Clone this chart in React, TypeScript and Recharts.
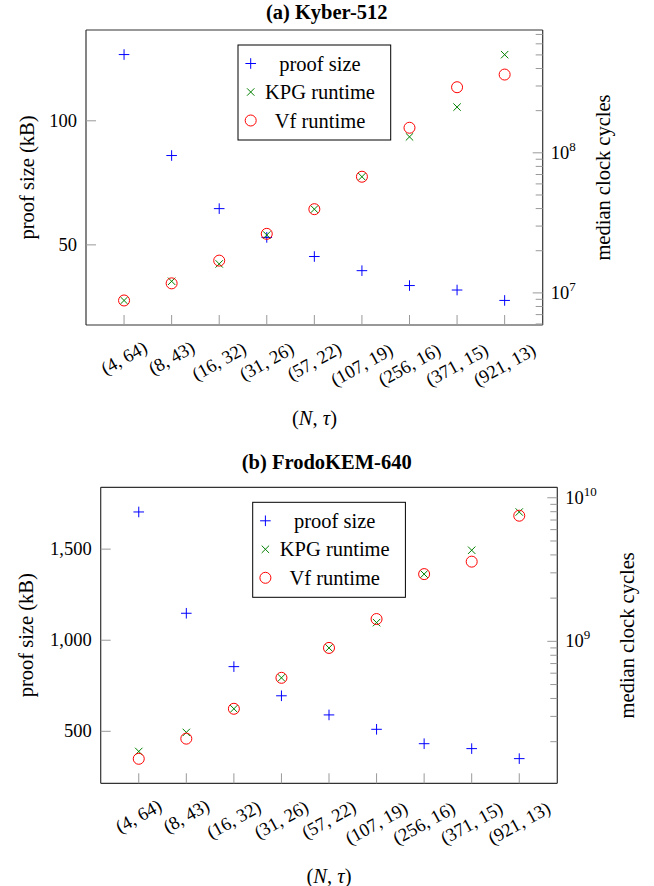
import { ScatterChart, Scatter, XAxis, YAxis } from "recharts";

const categories = ["(4, 64)", "(8, 43)", "(16, 32)", "(31, 26)", "(57, 22)", "(107, 19)", "(256, 16)", "(371, 15)", "(921, 13)"];
const xTicks = [0, 1, 2, 3, 4, 5, 6, 7, 8];

// Kyber-512
const kyberProof = [126.7, 86, 64.6, 53, 45.3, 39.6, 33.6, 31.8, 27.6];
const kyberKpg = [8.83e6, 1.21e7, 1.61e7, 2.59e7, 3.96e7, 6.75e7, 1.3e8, 2.12e8, 5.02e8];
const kyberVf = [8.83e6, 1.17e7, 1.7e7, 2.64e7, 3.96e7, 6.75e7, 1.51e8, 2.94e8, 3.62e8];
const kyberLeftTicks = [50, 100];
const kyberLogTicks = [6e6, 7e6, 8e6, 9e6, 1e7, 2e7, 3e7, 4e7, 5e7, 6e7, 7e7, 8e7, 9e7, 1e8, 2e8, 3e8, 4e8, 5e8, 6e8, 7e8];

// FrodoKEM-640
const frodoProof = [1704, 1148, 855, 695, 590, 511, 432, 405, 350];
const frodoKpg = [1.71e8, 2.32e8, 3.39e8, 5.57e8, 9.0e8, 1.35e9, 2.94e9, 4.31e9, 7.96e9];
const frodoVf = [1.52e8, 2.1e8, 3.39e8, 5.57e8, 9.0e8, 1.43e9, 2.94e9, 3.59e9, 7.5e9];
const frodoLeftTicks = [500, 1000, 1500];
const frodoLogTicks = [2e8, 3e8, 4e8, 5e8, 6e8, 7e8, 8e8, 9e8, 1e9, 2e9, 3e9, 4e9, 5e9, 6e9, 7e9, 8e9, 9e9, 1e10];

const FONT = "'Liberation Serif', 'DejaVu Serif', serif";
const AXIS = "#333";
const TICK = "#999";
const BLUE = "#0000ff";
const GREEN = "#008000";
const RED = "#ff0000";

const toPoints = (vals: number[]) => vals.map((v, i) => ({ i, v }));

const Plus = ({ cx, cy }: any) => (
  <g stroke={BLUE} strokeWidth={1}>
    <line x1={cx - 5.3} y1={cy} x2={cx + 5.3} y2={cy} />
    <line x1={cx} y1={cy - 5.3} x2={cx} y2={cy + 5.3} />
  </g>
);
const Cross = ({ cx, cy }: any) => (
  <g stroke={GREEN} strokeWidth={1}>
    <line x1={cx - 3.7} y1={cy - 3.7} x2={cx + 3.7} y2={cy + 3.7} />
    <line x1={cx - 3.7} y1={cy + 3.7} x2={cx + 3.7} y2={cy - 3.7} />
  </g>
);
const Ring = ({ cx, cy }: any) => <circle cx={cx} cy={cy} r={5.5} fill="none" stroke={RED} strokeWidth={1} />;

const XTick = ({ x, y, payload }: any) => {
  const label = categories[payload.value] ?? "";
  const dy = 33 + 3.5 * (label.length - 7);
  return (
    <g>
      <line x1={x} y1={y} x2={x} y2={y - 10} stroke={TICK} />
      <text x={x} y={y + dy} textAnchor="middle" dominantBaseline="central" transform={`rotate(-29 ${x} ${y + dy})`}
        fontSize={18.5} fontFamily={FONT} fill="#000">{label}</text>
    </g>
  );
};
const TopTick = ({ x, y }: any) => <line x1={x} y1={y} x2={x} y2={y + 10} stroke={TICK} />;

const LeftTick = ({ x, y, payload }: any) => (
  <g>
    <line x1={x} y1={y} x2={x + 10} y2={y} stroke={TICK} />
    <text x={x - 9} y={y} textAnchor="end" dominantBaseline="central" fontSize={18.5} fontFamily={FONT} fill="#000">
      {payload.value.toLocaleString("en-US")}
    </text>
  </g>
);

const RightTick = ({ x, y, payload }: any) => {
  const e = Math.log10(payload.value);
  const major = Math.abs(e - Math.round(e)) < 1e-6;
  return (
    <g>
      <line x1={x} y1={y} x2={x - (major ? 10 : 7)} y2={y} stroke={TICK} />
      {major && (
        <text x={x + 8} y={y + 6} fontSize={18.5} fontFamily={FONT} fill="#000">
          10<tspan dy={-8} fontSize={13}>{Math.round(e)}</tspan>
        </text>
      )}
    </g>
  );
};

// axes are 1px thick, so margins are one pixel short of the plot box edges
function Panel({ proof, kpg, vf, leftDomain, leftTicks, logDomain, logTicks, box, height }: any) {
  const margin = { top: box.top - 1, left: box.left - 1, right: 654 - box.right - 1, bottom: height - box.bottom - 1 };
  const line = { stroke: AXIS, strokeWidth: 1.2 };
  return (
    <ScatterChart width={654} height={height} margin={margin}>
      <XAxis dataKey="i" type="number" domain={[-0.8, 8.8]} ticks={xTicks} interval={0} height={1}
        tickSize={0} tickMargin={0} tickLine={false} axisLine={line} tick={<XTick />} />
      <XAxis xAxisId="top" orientation="top" dataKey="i" type="number" domain={[-0.8, 8.8]} ticks={xTicks} interval={0} height={1}
        tickSize={0} tickMargin={0} tickLine={false} axisLine={line} tick={<TopTick />} />
      <YAxis yAxisId="left" dataKey="v" type="number" domain={leftDomain} allowDataOverflow ticks={leftTicks} interval={0} width={1}
        tickSize={0} tickMargin={0} tickLine={false} axisLine={line} tick={<LeftTick />} />
      <YAxis yAxisId="right" orientation="right" dataKey="v" type="number" scale="log" domain={logDomain} allowDataOverflow
        ticks={logTicks} interval={0} width={1} tickSize={0} tickMargin={0} tickLine={false}
        axisLine={line} tick={<RightTick />} />
      <Scatter yAxisId="left" data={toPoints(proof)} shape={(p: any) => <Plus cx={p.cx} cy={p.cy} />} isAnimationActive={false} />
      <Scatter yAxisId="right" data={toPoints(kpg)} shape={(p: any) => <Cross cx={p.cx} cy={p.cy} />} isAnimationActive={false} />
      <Scatter yAxisId="right" data={toPoints(vf)} shape={(p: any) => <Ring cx={p.cx} cy={p.cy} />} isAnimationActive={false} />
    </ScatterChart>
  );
}

const LegendBox = ({ x, y }: { x: number; y: number }) => (
  <g transform={`translate(${x} ${y})`}>
    <rect x={0} y={0} width={152.7} height={95} fill="#fff" stroke="#000" strokeWidth={1} />
    <Plus cx={12.7} cy={18.5} />
    <Cross cx={12.7} cy={47} />
    <Ring cx={12.7} cy={75.5} />
    <g fontSize={20.5} fontFamily={FONT} textAnchor="middle" dominantBaseline="central" fill="#000">
      <text x={82} y={18.5}>proof size</text>
      <text x={82} y={47}>KPG runtime</text>
      <text x={82} y={75.5}>Vf runtime</text>
    </g>
  </g>
);

const AxisTitle = ({ x, y }: { x: number; y: number }) => (
  <text x={x} y={y} textAnchor="middle" dominantBaseline="central" fontSize={20.5} fontFamily={FONT} fill="#000">
    (<tspan fontStyle="italic">N</tspan>, <tspan fontStyle="italic">τ</tspan>)
  </text>
);

const VLabel = ({ x, y, text }: { x: number; y: number; text: string }) => (
  <text x={x} y={y} transform={`rotate(-90 ${x} ${y})`} textAnchor="middle" dominantBaseline="central"
    fontSize={20.5} fontFamily={FONT} fill="#000">{text}</text>
);

export default function App() {
  return (
    <div style={{ position: "absolute", left: 0, top: 0, width: 654, height: 886, background: "#fff", fontFamily: FONT }}>
      <div style={{ position: "absolute", left: 0, top: 0 }}>
        <Panel proof={kyberProof} kpg={kyberKpg} vf={kyberVf} leftDomain={[17.7, 136.6]} leftTicks={kyberLeftTicks}
          logDomain={[5.9e6, 7.53e8]} logTicks={kyberLogTicks} height={443}
          box={{ top: 30, left: 86, right: 542.7, bottom: 325 }} />
      </div>
      <div style={{ position: "absolute", left: 0, top: 443 }}>
        <Panel proof={frodoProof} kpg={frodoKpg} vf={frodoVf} leftDomain={[214.6, 1839.4]} leftTicks={frodoLeftTicks}
          logDomain={[1.026e8, 1.183e10]} logTicks={frodoLogTicks} height={443}
          box={{ top: 44.3, left: 100.7, right: 557.3, bottom: 340.3 }} />
      </div>
      <svg width={654} height={886} style={{ position: "absolute", left: 0, top: 0, pointerEvents: "none" }}>
        <text x={326.7} y={19} textAnchor="middle" fontSize={20.5} fontWeight="bold" fontFamily={FONT}>(a) Kyber-512</text>
        <text x={326.7} y={469} textAnchor="middle" fontSize={20.5} fontWeight="bold" fontFamily={FONT}>(b) FrodoKEM-640</text>
        <LegendBox x={238} y={45} />
        <LegendBox x={252.7} y={502.3} />
        <VLabel x={26.7} y={177.5} text="proof size (kB)" />
        <VLabel x={603} y={177.5} text="median clock cycles" />
        <VLabel x={26} y={635.3} text="proof size (kB)" />
        <VLabel x={626.7} y={635.3} text="median clock cycles" />
        <AxisTitle x={314.5} y={418} />
        <AxisTitle x={329} y={876} />
      </svg>
    </div>
  );
}
